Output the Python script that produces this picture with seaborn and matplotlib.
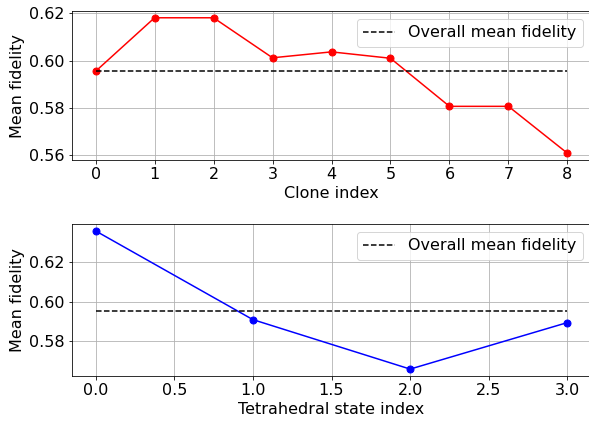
import matplotlib
matplotlib.use("Agg")
import matplotlib.pyplot as plt
import seaborn as sns
import numpy as np

clone_index = [0, 1, 2, 3, 4, 5, 6, 7, 8]
clone_fidelity = [0.5955, 0.6181, 0.6181, 0.6012, 0.6037, 0.6010, 0.5807, 0.5807, 0.5609]
tetra_index = [0.0, 1.0, 2.0, 3.0]
tetra_fidelity = [0.6359, 0.5909, 0.5658, 0.5894]
overall_mean = 0.5955

plt.rcParams['font.family'] = ['DejaVu Sans']
FS = 16
plt.rcParams['font.size'] = FS

DPI = 72
fig = plt.figure(figsize=(589/DPI, 422/DPI), dpi=DPI)
ax1 = fig.add_axes([72/589, 1-160/422, (591-72)/589, 149/422])
ax2 = fig.add_axes([72/589, 1-376/422, (591-72)/589, 152/422])

sns.lineplot(x=clone_index, y=clone_fidelity, ax=ax1, color='red', marker='o',
             markersize=7, markeredgecolor='red', markeredgewidth=1, linewidth=1.5)
ax1.plot([clone_index[0], clone_index[-1]], [overall_mean, overall_mean], 'k--',
         linewidth=1.5, label='Overall mean fidelity')
ax1.set_xlabel('Clone index', fontsize=FS)
ax1.set_ylabel('Mean fidelity', fontsize=FS)
ax1.set_xticks(clone_index)
ax1.grid(True)
ax1.legend(loc='upper right', fontsize=FS)

sns.lineplot(x=tetra_index, y=tetra_fidelity, ax=ax2, color='blue', marker='o',
             markersize=7, markeredgecolor='blue', markeredgewidth=1, linewidth=1.5)
ax2.plot([tetra_index[0], tetra_index[-1]], [overall_mean, overall_mean], 'k--',
         linewidth=1.5, label='Overall mean fidelity')
ax2.set_xlabel('Tetrahedral state index', fontsize=FS)
ax2.set_ylabel('Mean fidelity', fontsize=FS)
ax2.grid(True)
ax2.legend(loc='upper right', fontsize=FS)

for ax in (ax1, ax2):
    ax.tick_params(labelsize=FS)

fig.savefig('out.png', dpi=DPI)
